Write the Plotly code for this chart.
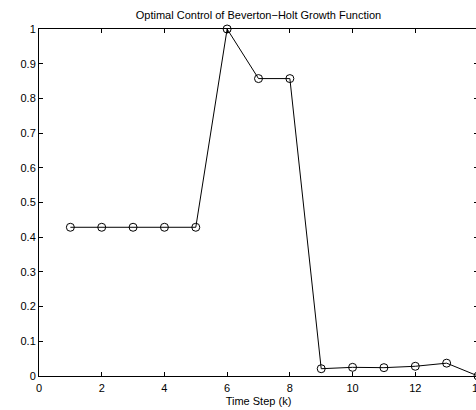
import plotly.graph_objects as go

time_step = [1, 2, 3, 4, 5, 6, 7, 8, 9, 10, 11, 12, 13, 14]
control = [0.4286, 0.4286, 0.4286, 0.4286, 0.4286, 1.0, 0.8571, 0.8571,
           0.021, 0.025, 0.024, 0.028, 0.037, 0.0]
x_ticks = [0, 2, 4, 6, 8, 10, 12, 14]
y_ticks = [0, 0.1, 0.2, 0.3, 0.4, 0.5, 0.6, 0.7, 0.8, 0.9, 1]
y_ticktext = ["0", "0.1", "0.2", "0.3", "0.4", "0.5", "0.6", "0.7", "0.8", "0.9", "1"]

font_family = "Liberation Sans, Arial, Helvetica, sans-serif"

fig = go.Figure()
fig.add_trace(go.Scatter(
    x=time_step, y=control, mode="lines+markers",
    line=dict(color="black", width=1),
    marker=dict(symbol="circle-open", size=8, color="black", line=dict(width=1, color="black")),
    cliponaxis=False, showlegend=False,
))

fig.update_layout(
    width=478, height=410,
    margin=dict(l=39, r=0, t=29, b=34, autoexpand=False),
    paper_bgcolor="white", plot_bgcolor="white",
    font=dict(family=font_family, size=11, color="black"),
    title=dict(text="Optimal Control of Beverton\u2212Holt Growth Function",
               x=0.5, xref="paper", xanchor="center",
               y=1, yref="container", yanchor="top", pad=dict(t=11),
               font=dict(size=11, color="black")),
)
fig.update_xaxes(
    range=[0, 14], tickvals=x_ticks, ticktext=[str(v) for v in x_ticks],
    ticks="inside", ticklen=4, tickcolor="black", tickwidth=1,
    showline=True, linecolor="black", linewidth=1, mirror="ticks",
    showgrid=False, zeroline=False, ticklabeloverflow="allow",
    ticklabelstandoff=2, automargin=False,
    title=dict(text="Time Step (k)", standoff=4, font=dict(size=11)),
    tickfont=dict(size=11),
)
fig.update_yaxes(
    range=[0, 1], tickvals=y_ticks, ticktext=y_ticktext,
    ticks="inside", ticklen=4, tickcolor="black", tickwidth=1,
    showline=True, linecolor="black", linewidth=1, mirror="ticks",
    showgrid=False, zeroline=False, tickfont=dict(size=11), automargin=False,
)

fig.write_html("out.html", post_script=(
    "document.documentElement.style.overflow='hidden';"
    "document.body.style.overflow='hidden';"
))
